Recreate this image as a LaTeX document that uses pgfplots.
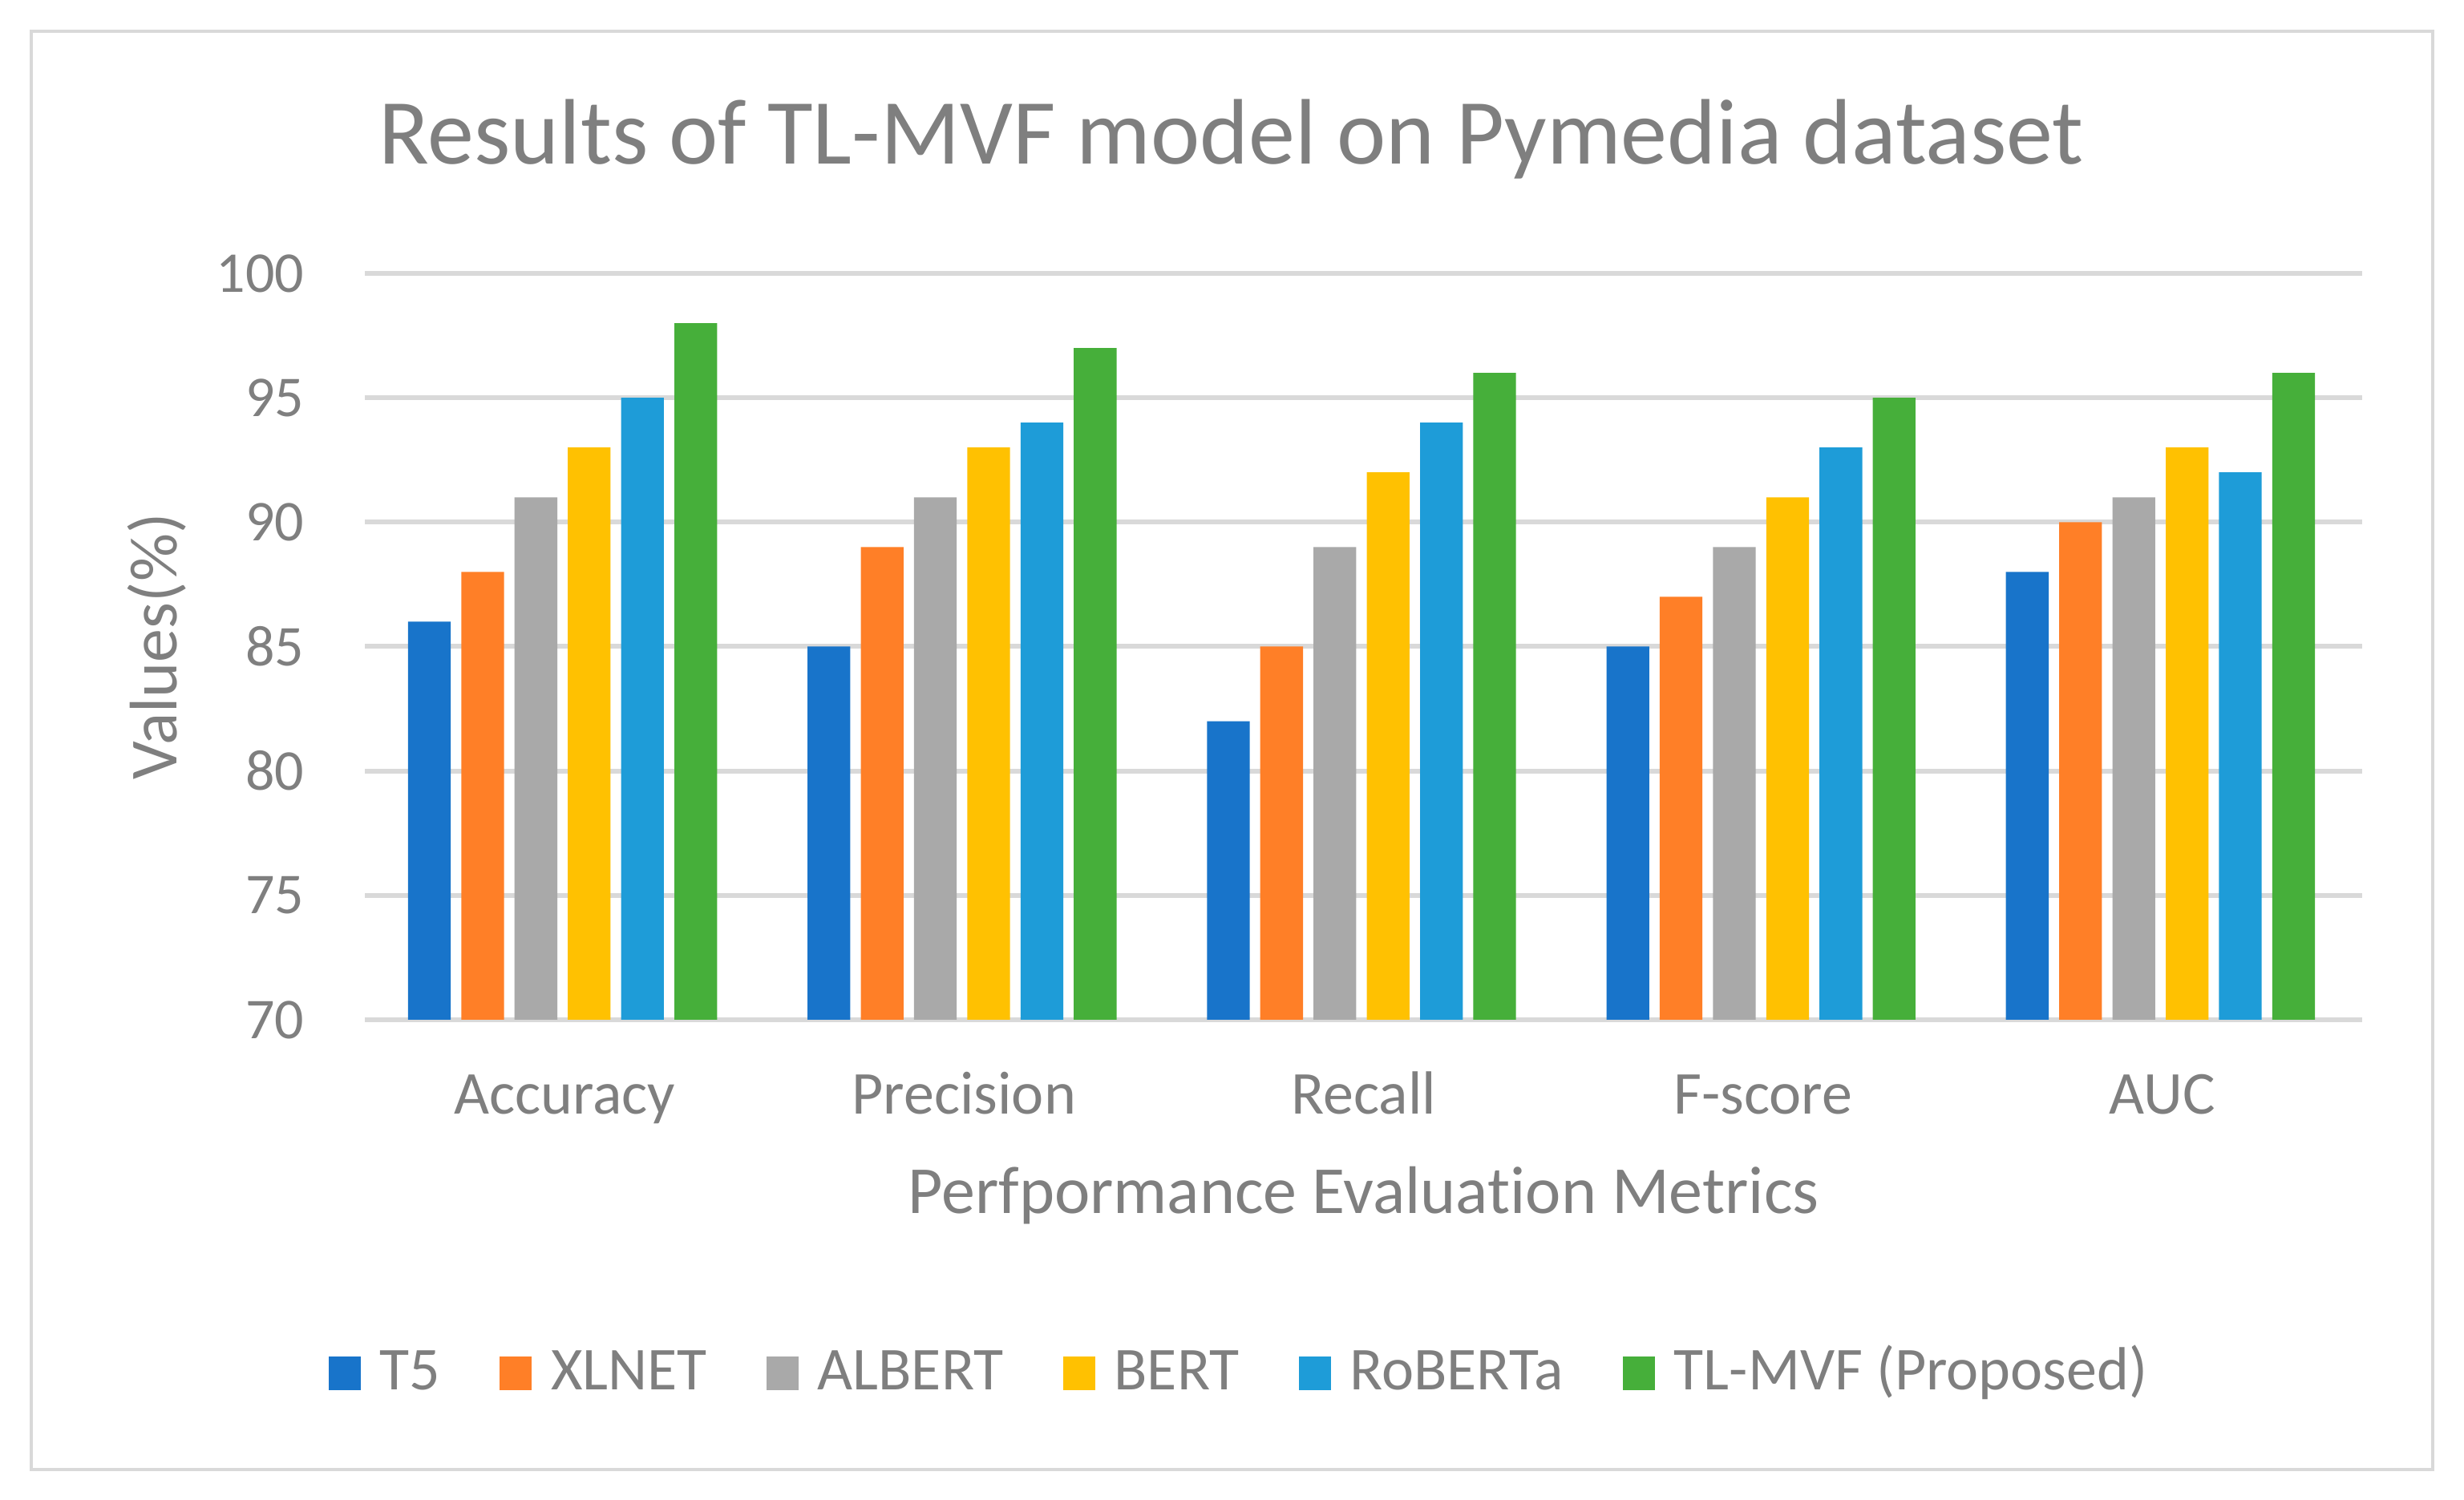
\documentclass[border=0pt]{standalone}
\usepackage{pgfplots}
\pgfplotsset{compat=1.18}
\usepackage{fontspec}
\setmainfont{Carlito}[Ligatures={NoCommon}]
\definecolor{txtgray}{HTML}{7F7F7F}
\definecolor{gridgray}{HTML}{D9D9D9}
\definecolor{cT}{HTML}{1874CA}
\definecolor{cX}{HTML}{FF7F27}
\definecolor{cA}{HTML}{A9A9A9}
\definecolor{cB}{HTML}{FFC101}
\definecolor{cR}{HTML}{1E9CD8}
\definecolor{cG}{HTML}{46AF3A}
\begin{document}
\begin{tikzpicture}
\path[use as bounding box] (0pt,0pt) rectangle (768.25pt,467.75pt);
\draw[draw=gridgray, line width=0.8pt] (9.75pt,9.5pt) rectangle (758.5pt,458pt);
\node[anchor=base, text=txtgray, font=\fontsize{29pt}{33pt}\selectfont] at (384pt,416.5pt) {Results of TL-MVF model on Pymedia dataset};
\begin{axis}[
  at={(113.75pt,149.75pt)}, anchor=south west,
  scale only axis, width=622.75pt, height=232.75pt,
  xmin=-0.5, xmax=4.5, ymin=70, ymax=100,
  ybar, bar width=0.107,
  ytick={70,75,80,85,90,95,100},
  xtick={0,1,2,3,4},
  xticklabels={Accuracy,Precision,Recall,F-score,AUC},
  /pgf/number format/assume math mode=true,
  ymajorgrids, grid style={line width=1.5pt, draw=gridgray},
  axis line style={draw=none}, tick style={draw=none}, major tick length=0pt,
  ticklabel style={text=txtgray, font=\fontsize{18pt}{21pt}\selectfont, inner sep=0pt},
  xticklabel style={anchor=base, yshift=-29.5pt, font=\fontsize{19pt}{22pt}\selectfont},
  yticklabel style={anchor=east, xshift=-18.75pt},
  xlabel={Perfpormance Evaluation Metrics},
  ylabel={Values(\%)},
  label style={text=txtgray, font=\fontsize{21pt}{25pt}\selectfont},
  xlabel style={at={(axis description cs:0.5,0)}, anchor=base, yshift=-60.5pt},
  ylabel style={at={(axis description cs:-0.104,0.5)}, anchor=center},
  legend columns=6,
  legend style={draw=none, fill=none, at={(axis description cs:0.4388,-0.4694)}, anchor=center,
    font=\fontsize{19pt}{22pt}\selectfont, text=txtgray,
    cells={anchor=base west},
    /tikz/every odd column/.append style={column sep=4pt},
    /tikz/every even column/.append style={column sep=16.5pt}},
  legend image code/.code={\fill[#1] (0pt,0pt) rectangle (10pt,10.5pt);},
]
\addplot[fill=cT, draw=none, bar shift=-0.3383] coordinates {(0,86) (1,85) (2,82) (3,85) (4,88)};
\addplot[fill=cX, draw=none, bar shift=-0.205] coordinates {(0,88) (1,89) (2,85) (3,87) (4,90)};
\addplot[fill=cA, draw=none, bar shift=-0.0717] coordinates {(0,91) (1,91) (2,89) (3,89) (4,91)};
\addplot[fill=cB, draw=none, bar shift=0.0617] coordinates {(0,93) (1,93) (2,92) (3,91) (4,93)};
\addplot[fill=cR, draw=none, bar shift=0.195] coordinates {(0,95) (1,94) (2,94) (3,93) (4,92)};
\addplot[fill=cG, draw=none, bar shift=0.3283] coordinates {(0,98) (1,97) (2,96) (3,95) (4,96)};
\legend{T5,XLNET,ALBERT,BERT,RoBERTa,TL-MVF (Proposed)}
\end{axis}
\end{tikzpicture}
\end{document}
